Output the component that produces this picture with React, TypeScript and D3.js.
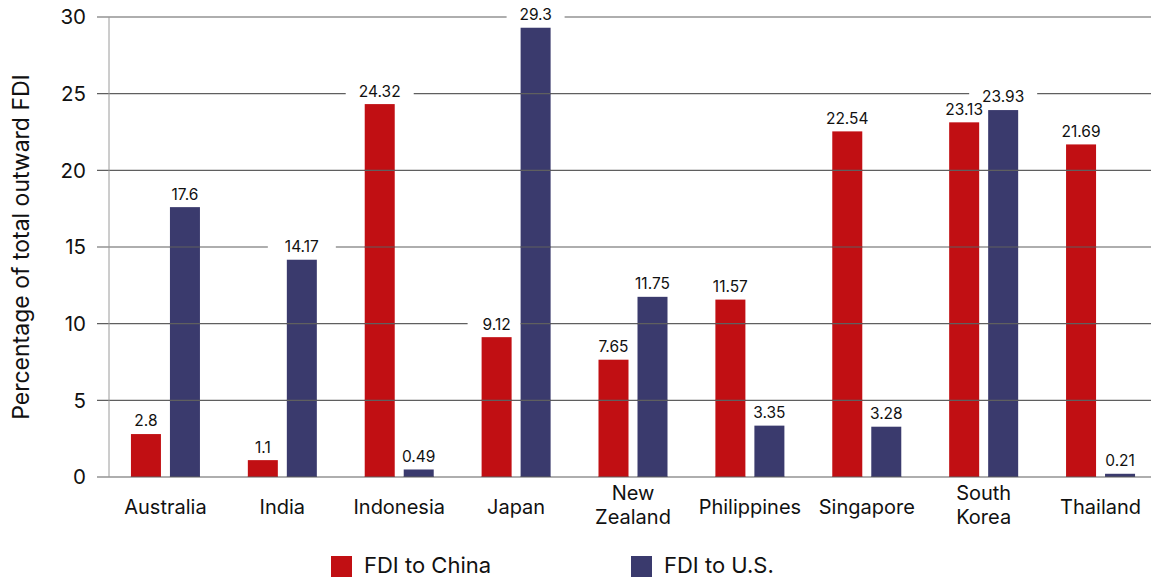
import React, { useEffect, useRef } from 'react'
import * as d3 from 'd3'

const categories = ['Australia', 'India', 'Indonesia', 'Japan', 'New Zealand', 'Philippines', 'Singapore', 'South Korea', 'Thailand']
const fdiChina = [2.8, 1.1, 24.32, 9.12, 7.65, 11.57, 22.54, 23.13, 21.69]
const fdiUS = [17.6, 14.17, 0.49, 29.3, 11.75, 3.35, 3.28, 23.93, 0.21]
const yTicks = [0, 5, 10, 15, 20, 25, 30]
const seriesNames = ['FDI to China', 'FDI to U.S.']
const colors = ['#c10f13', '#3a3a6d']

const App = () => {
    const ref = useRef<SVGSVGElement>(null)

    useEffect(() => {
        const width = 1151
        const height = 577
        const left = 107
        const right = 1159
        const axisX = 109
        const top = 17
        const bottom = 477
        const font = 'Inter, "Noto Sans", sans-serif'

        const svg = d3.select(ref.current)
        svg.selectAll('*').remove()
        svg.attr('width', width).attr('height', height)

        const x = d3.scaleBand().domain(categories).range([left, right]).padding(0)
        const y = d3.scaleLinear().domain([0, 30]).range([bottom, top])

        const barW = 30
        const offset = 19.5
        const series = [fdiChina, fdiUS]
        const cx = (c: string, si: number) => (x(c) || 0) + x.bandwidth() / 2 + (si === 0 ? -offset : offset)
        const labelSize = 15.5

        const drawGrid = (g: d3.Selection<SVGGElement, unknown, null, undefined>) => {
            g.selectAll('line')
                .data(yTicks)
                .enter()
                .append('line')
                .attr('x1', 97)
                .attr('x2', width)
                .attr('y1', (d) => y(d))
                .attr('y2', (d) => y(d))
                .attr('stroke', '#5f5f5f')
                .attr('stroke-width', 1.2)
        }

        // gridlines
        drawGrid(svg.append('g'))

        // y axis line
        svg.append('line')
            .attr('x1', axisX)
            .attr('x2', axisX)
            .attr('y1', top)
            .attr('y2', bottom)
            .attr('stroke', '#9a9a9a')
            .attr('stroke-width', 1)

        // tick labels
        svg.append('g')
            .selectAll('text')
            .data(yTicks)
            .enter()
            .append('text')
            .attr('x', 86)
            .attr('y', (d) => y(d))
            .attr('dy', '0.35em')
            .attr('text-anchor', 'end')
            .attr('font-family', font)
            .attr('font-size', 20.5)
            .attr('fill', '#111')
            .text((d) => d)

        // y title
        svg.append('text')
            .attr('transform', `translate(29,${(top + bottom) / 2}) rotate(-90)`)
            .attr('text-anchor', 'middle')
            .attr('font-family', font)
            .attr('font-size', 23)
            .attr('fill', '#111')
            .text('Percentage of total outward FDI')

        // label backgrounds (cut the gridlines, drawn under bars)
        series.forEach((vals, si) => {
            svg.append('g')
                .selectAll('rect')
                .data(categories)
                .enter()
                .append('rect')
                .attr('x', (c, i) => cx(c, si) - String(vals[i]).length * 5 - 9)
                .attr('width', (c, i) => String(vals[i]).length * 10 + 18)
                .attr('y', (c, i) => y(vals[i]) - 13 - 10)
                .attr('height', 20)
                .attr('fill', '#fff')
        })

        // bars, plus a clip path with the same shapes
        const clip = svg.append('defs').append('clipPath').attr('id', 'barClip')
        series.forEach((vals, si) => {
            ;[svg.append('g'), clip].forEach((parent, k) => {
                parent.selectAll('rect.bar' + si)
                    .data(categories)
                    .enter()
                    .append('rect')
                    .attr('class', 'bar' + si)
                    .attr('x', (c) => cx(c, si) - barW / 2)
                    .attr('width', barW)
                    .attr('y', (c, i) => y(vals[i]))
                    .attr('height', (c, i) => bottom - y(vals[i]))
                    .attr('fill', k === 0 ? colors[si] : '#000')
            })
        })

        // gridlines shown across the bars
        drawGrid(svg.append('g').attr('clip-path', 'url(#barClip)'))

        series.forEach((vals, si) => {
            svg.append('g')
                .selectAll('text')
                .data(categories)
                .enter()
                .append('text')
                .attr('x', (c) => cx(c, si))
                .attr('y', (c, i) => y(vals[i]) - 13)
                .attr('text-anchor', 'middle')
                .attr('dy', '0.35em')
                .attr('font-family', font)
                .attr('font-size', labelSize)
                .attr('fill', '#111')
                .text((c, i) => vals[i])
        })

        // category labels
        const catG = svg.append('g')
            .selectAll('text')
            .data(categories)
            .enter()
            .append('text')
            .attr('x', (c) => (x(c) || 0) + x.bandwidth() / 2)
            .attr('text-anchor', 'middle')
            .attr('font-family', font)
            .attr('font-size', 20)
            .attr('fill', '#111')
        catG.each(function (c) {
            const words = c.split(' ')
            const t = d3.select(this)
            if (words.length === 1) {
                t.append('tspan').attr('y', 507).attr('dy', '0.35em').text(c)
            } else {
                words.forEach((w, i) => {
                    t.append('tspan')
                        .attr('x', (x(c) || 0) + x.bandwidth() / 2)
                        .attr('y', 493 + i * 24)
                        .attr('dy', '0.35em')
                        .text(w)
                })
            }
        })

        // legend
        const legendX = [331, 631]
        seriesNames.forEach((name, i) => {
            svg.append('rect')
                .attr('x', legendX[i])
                .attr('y', 556)
                .attr('width', 21)
                .attr('height', 21)
                .attr('fill', colors[i])
            svg.append('text')
                .attr('x', legendX[i] + 33)
                .attr('y', 565)
                .attr('dy', '0.35em')
                .attr('font-family', font)
                .attr('font-size', 22)
                .attr('fill', '#111')
                .text(name)
        })
    }, [])

    return <svg ref={ref} style={{ display: 'block', position: 'absolute', left: 0, top: 0 }}></svg>
}

export default App
